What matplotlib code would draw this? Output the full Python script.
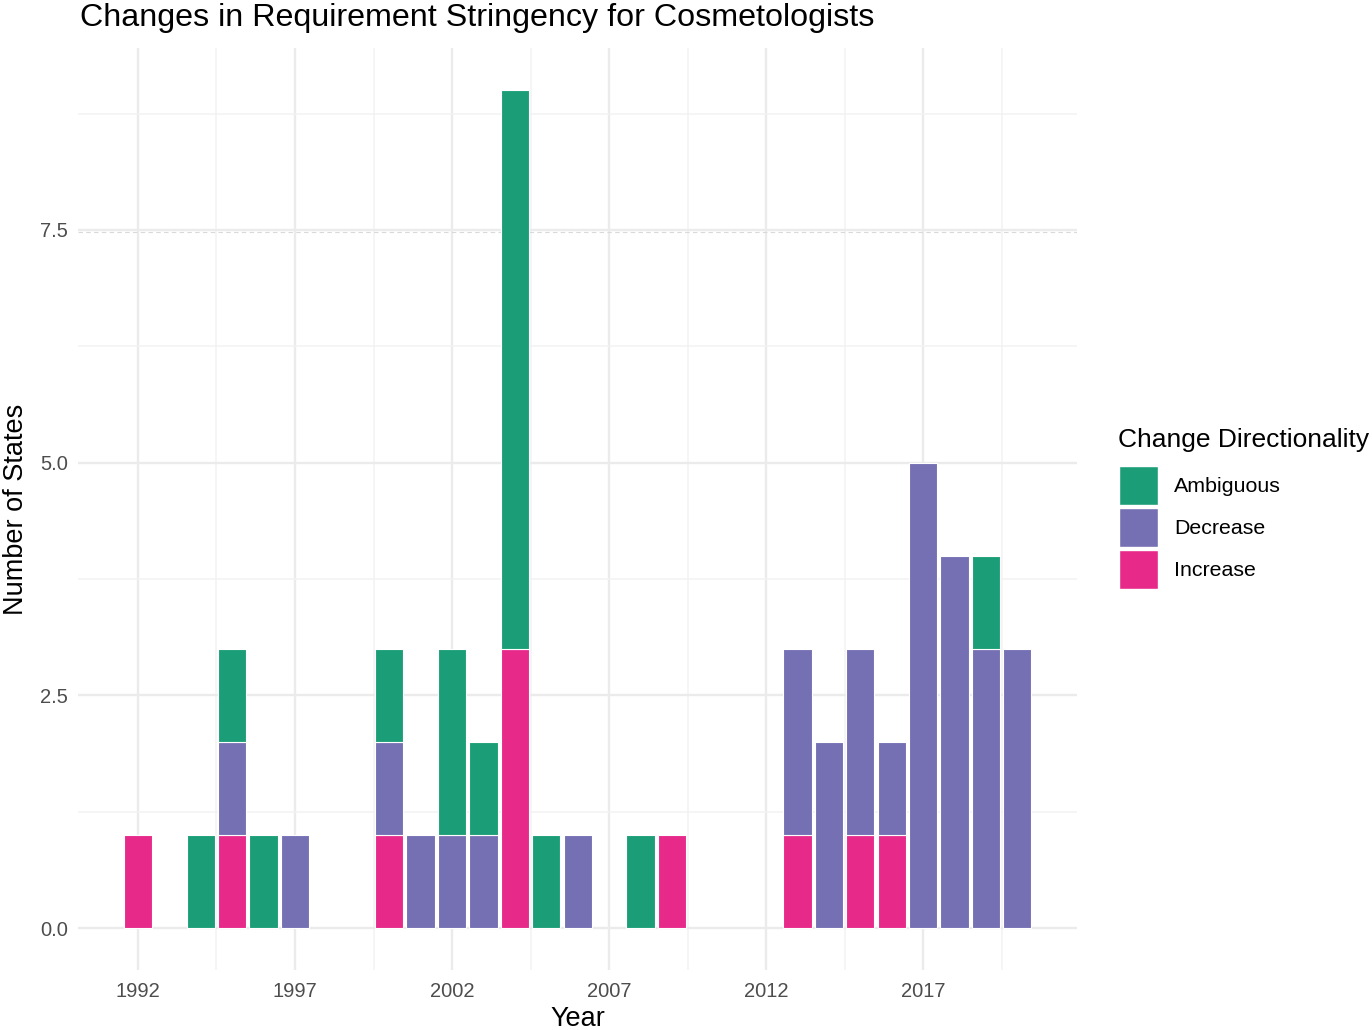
import matplotlib.pyplot as plt
from matplotlib.patches import Patch
import numpy as np

plt.rcParams['font.family'] = ['Liberation Sans', 'DejaVu Sans']

years = [1992, 1994, 1995, 1996, 1997, 2000, 2001, 2002, 2003, 2004, 2005,
         2006, 2008, 2009, 2013, 2014, 2015, 2016, 2017, 2018, 2019, 2020]
increase = [1, 0, 1, 0, 0, 1, 0, 0, 0, 3, 0, 0, 0, 1, 1, 0, 1, 1, 0, 0, 0, 0]
decrease = [0, 0, 1, 0, 1, 1, 1, 1, 1, 0, 0, 1, 0, 0, 2, 2, 2, 1, 5, 4, 3, 3]
ambiguous = [0, 1, 1, 1, 0, 1, 0, 2, 1, 6, 1, 0, 1, 0, 0, 0, 0, 0, 0, 0, 1, 0]

categories = ['Ambiguous', 'Decrease', 'Increase']
colors = {'Ambiguous': '#1B9E77', 'Decrease': '#7570B3', 'Increase': '#E7298A'}

x_ticks = [1992, 1997, 2002, 2007, 2012, 2017]
y_ticks = [0.0, 2.5, 5.0, 7.5]

W, H = 1372, 1030
fig = plt.figure(figsize=(W / 100, H / 100), dpi=100)
ax = fig.add_axes([78 / W, 1 - 970 / H, 999 / W, 922 / H])

years = np.array(years)
inc = np.array(increase)
dec = np.array(decrease)
amb = np.array(ambiguous)

# stack bottom-up: Increase, Decrease, Ambiguous
for vals, bottom, name in [(inc, np.zeros_like(inc), 'Increase'), (dec, inc, 'Decrease'), (amb, inc + dec, 'Ambiguous')]:
    mask = vals > 0
    ax.bar(years[mask], vals[mask], bottom=bottom[mask],
           width=0.9, color=colors[name], edgecolor='white', linewidth=0.8, zorder=3)

ax.set_xlim(1990.09, 2021.9)
ax.set_ylim(-0.451, 9.455)

ax.set_xticks(x_ticks)
ax.set_xticks([1994.5, 1999.5, 2004.5, 2009.5, 2014.5, 2019.5], minor=True)
ax.set_yticks(y_ticks)
ax.set_yticklabels(['0.0', '2.5', '5.0', '7.5'])
ax.set_yticks([1.25, 3.75, 6.25, 8.75], minor=True)

ax.grid(which='major', color='#EBEBEB', linewidth=1.7, zorder=0)
ax.grid(which='minor', color='#F2F2F2', linewidth=1.1, zorder=0)
ax.axhline(7.48, color='#D9D9D9', linewidth=0.8, linestyle=(0, (4, 3)), zorder=1)
ax.set_axisbelow(True)

for s in ax.spines.values():
    s.set_visible(False)
ax.tick_params(which='both', length=0)
ax.tick_params(axis='x', labelsize=14.5, labelcolor='#4D4D4D', pad=8.5)
ax.tick_params(axis='y', labelsize=14.5, labelcolor='#4D4D4D', pad=7)

ax.set_xlabel('Year', fontsize=19.5, labelpad=3.5)
ax.set_ylabel('Number of States', fontsize=19.5, labelpad=8)
fig.text(80 / W, 1 - 18 / H, 'Changes in Requirement Stringency for Cosmetologists',
         fontsize=23.2, ha='left', va='center')

# legend title drawn on its own so the gap to the keys matches
fig.text(1118 / W, 1 - 440 / H, 'Change Directionality', fontsize=19.0,
         ha='left', va='center')
handles = [Patch(facecolor=colors[c], edgecolor='white', label=c) for c in categories]
leg = fig.legend(handles=handles, loc='upper left',
                 bbox_to_anchor=(1119 / W, 1 - 466 / H), frameon=False,
                 fontsize=15.4, handlelength=1.82, handleheight=2.43,
                 labelspacing=0.14, handletextpad=0.75, borderaxespad=0, borderpad=0)

fig.savefig('out.png', dpi=100)
